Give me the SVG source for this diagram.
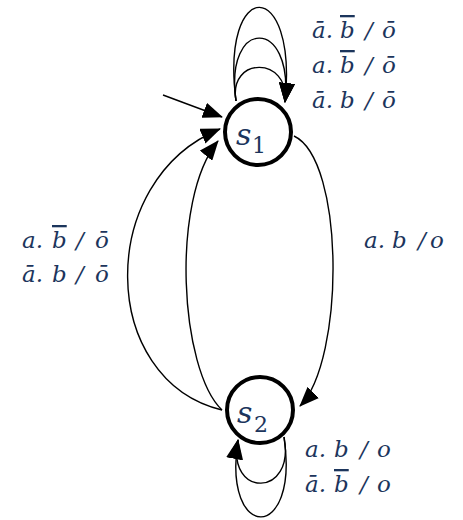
<svg xmlns="http://www.w3.org/2000/svg" width="463" height="520" viewBox="0 0 463 520">
<style>
.bg{fill:#fff}
.state{fill:#fff;stroke:#000;stroke-width:4}
.edge{fill:none;stroke:#000;stroke-width:1.4}
.lbl{font-family:"DejaVu Serif","Liberation Serif",serif;font-style:italic;font-size:23px;fill:#1c355c}
.ov{text-decoration:overline}
.sn{font-family:"DejaVu Serif","Liberation Serif",serif;font-style:italic;font-size:30px;fill:#1c355c}
.sub{font-family:"DejaVu Serif","Liberation Serif",serif;font-style:normal;font-size:22px;fill:#1c355c}
</style>
<defs>
<marker id="arr" viewBox="0 0 20 16" refX="19" refY="8" markerWidth="20" markerHeight="16" markerUnits="userSpaceOnUse" orient="auto">
<path d="M0,0 L20,8 L0,16 z" fill="#000"/>
</marker>
</defs>
<rect class="bg" x="0" y="0" width="463" height="520"/>
<g id="connectors">
<path class="edge" d="M163,95 L222,117" marker-end="url(#arr)"/>
<path class="edge" d="M236,101 C220,-24 298,-24 285,102" marker-end="url(#arr)"/>
<path class="edge" d="M236,101 C224,17 294,17 285,102" marker-end="url(#arr)"/>
<path class="edge" d="M236,101 C228,56 290,56 285,102" marker-end="url(#arr)"/>
<path class="edge" d="M294,136 C345,160 345,360 300,406" marker-end="url(#arr)"/>
<path class="edge" d="M222,410 C98,380 95,180 220,129" marker-end="url(#arr)"/>
<path class="edge" d="M222,410 C180,370 170,200 218,141" marker-end="url(#arr)"/>
<path class="edge" d="M284,437 C300,543 222,543 238,440" marker-end="url(#arr)"/>
<path class="edge" d="M284,437 C296,498 226,498 238,440" marker-end="url(#arr)"/>
</g>
<g id="s1">
<circle class="state" cx="258" cy="132" r="33"/>
<text class="sn" x="236" y="145">s</text><text class="sub" x="252" y="153">1</text>
</g>
<g id="s2">
<circle class="state" cx="260" cy="410" r="33"/>
<text class="sn" x="237" y="423">s</text><text class="sub" x="254" y="432">2</text>
</g>
<g id="labels">
<text class="lbl" y="38"><tspan x="312">ā.</tspan><tspan x="340" class="ov">b</tspan><tspan x="365">/</tspan><tspan x="382">ō</tspan></text>
<text class="lbl" y="73"><tspan x="312">a.</tspan><tspan x="340" class="ov">b</tspan><tspan x="365">/</tspan><tspan x="382">ō</tspan></text>
<text class="lbl" y="108"><tspan x="312">ā.</tspan><tspan x="340">b</tspan><tspan x="365">/</tspan><tspan x="382">ō</tspan></text>
<text class="lbl" y="248"><tspan x="22">a.</tspan><tspan x="52" class="ov">b</tspan><tspan x="76">/</tspan><tspan x="95">ō</tspan></text>
<text class="lbl" y="282"><tspan x="22">ā.</tspan><tspan x="52">b</tspan><tspan x="76">/</tspan><tspan x="95">ō</tspan></text>
<text class="lbl" y="248"><tspan x="364">a.</tspan><tspan x="392">b</tspan><tspan x="418">/</tspan><tspan x="430">o</tspan></text>
<text class="lbl" y="457"><tspan x="305">a.</tspan><tspan x="334">b</tspan><tspan x="360">/</tspan><tspan x="377">o</tspan></text>
<text class="lbl" y="492"><tspan x="305">ā.</tspan><tspan x="334" class="ov">b</tspan><tspan x="360">/</tspan><tspan x="377">o</tspan></text>
</g>
</svg>
